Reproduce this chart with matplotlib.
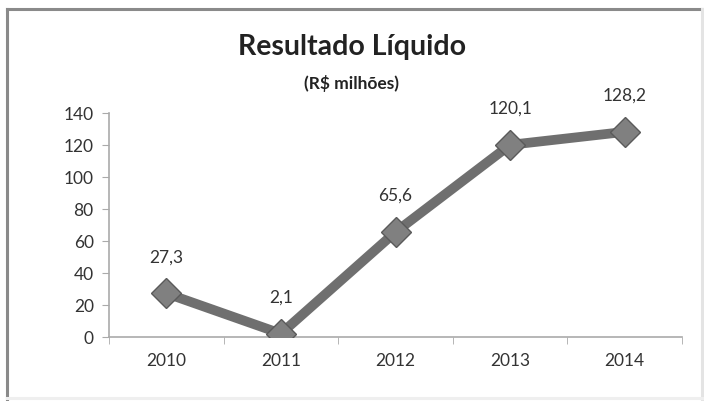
import numpy as np
import matplotlib.pyplot as plt
from matplotlib.lines import Line2D

years = ['2010', '2011', '2012', '2013', '2014']
values = [27.3, 2.1, 65.6, 120.1, 128.2]
labels = ['27,3', '2,1', '65,6', '120,1', '128,2']
yticks = [0, 20, 40, 60, 80, 100, 120, 140]

plt.rcParams['font.family'] = ['Lato', 'DejaVu Sans']

W, H = 704, 402
fig = plt.figure(figsize=(W / 100, H / 100), dpi=100)

# outer frame
def px(x, y):
    return x / W, 1 - y / H

for (x0, y0), (x1, y1), c in [((7, 10), (702, 10), '#8a8a8a'),
                              ((7, 10), (7, 402), '#8a8a8a'),
                              ((702, 10), (702, 402), '#e4e4e4'),
                              ((7, 399), (702, 399), '#efefef')]:
    a, b = px(x0, y0)
    c2, d = px(x1, y1)
    fig.add_artist(Line2D([a, c2], [b, d], color=c, lw=2.2, transform=fig.transFigure))

ax = fig.add_axes([109 / W, 1 - 338 / H, (682 - 109) / W, (338 - 114) / H])

x = np.arange(len(years))
ax.plot(x, values, color='#6f6f6f', lw=7, solid_joinstyle='miter', zorder=2)
ax.plot(x, values, linestyle='none', marker='D', markersize=15,
        markerfacecolor='#808080', markeredgecolor='#5a5a5a', markeredgewidth=1, zorder=3)

for xi, v, lab in zip(x, values, labels):
    ax.annotate(lab, (xi, v), xytext=(0, 21), textcoords='offset points',
                ha='center', va='bottom', fontsize=12.5, color='#333333')

ax.set_xlim(-0.5, len(years) - 0.5)
ax.set_ylim(0, 140)
ax.set_yticks(yticks)
ax.set_yticklabels([str(t) for t in yticks], fontsize=12.5, color='#333333')
ax.set_xticks(x)
ax.set_xticklabels(years, fontsize=12.5, color='#333333')
ax.set_xticks(np.arange(-0.5, len(years)), minor=True)
ax.tick_params(axis='x', which='major', length=0, pad=11)
ax.tick_params(axis='x', which='minor', length=5, color='#aaaaaa', direction='out')
ax.tick_params(axis='y', length=5, color='#aaaaaa', direction='out', pad=6)

for s in ['top', 'right']:
    ax.spines[s].set_visible(False)
for s in ['left', 'bottom']:
    ax.spines[s].set_color('#aaaaaa')
    ax.spines[s].set_linewidth(1.2)

fig.text(352 / W, 1 - 47 / H, 'Resultado Líquido', ha='center', va='center',
         fontsize=20.5, fontweight='bold', color='#222222')
fig.text(352 / W, 1 - 84 / H, '(R$ milhões)', ha='center', va='center',
         fontsize=12.5, fontweight='bold', color='#222222')

fig.savefig('out.png', dpi=100)
